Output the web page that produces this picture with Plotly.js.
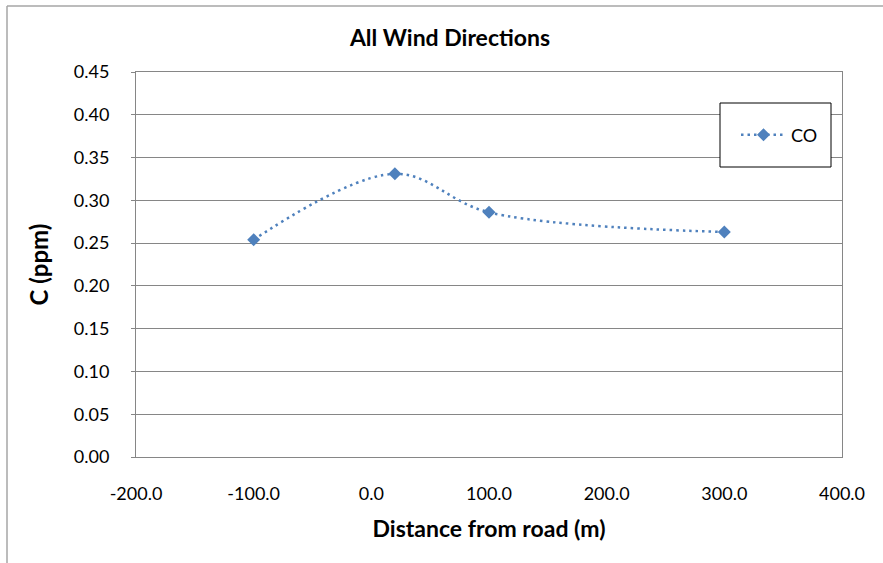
<!DOCTYPE html>
<html>
<head>
<meta charset="utf-8">
<script src="https://cdn.plot.ly/plotly-3.0.1.min.js"></script>
<style>
html,body{margin:0;padding:0;background:#fff;}
#chart{width:883px;height:563px;}
</style>
</head>
<body>
<div id="chart"></div>
<script>
// Data
const seriesName = "CO";
const distance = [-100, 20, 100, 300];
const concentration = [0.254, 0.331, 0.286, 0.263];
const xTickVals = [-200, -100, 0, 100, 200, 300, 400];
const yTickVals = [0, 0.05, 0.10, 0.15, 0.20, 0.25, 0.30, 0.35, 0.40, 0.45];

const FONT = "Lato, 'Open Sans', 'DejaVu Sans', sans-serif";
const blue = "#4F81BD";
const grid = "#868686";

// plot area in px
const L = 136, R = 842, T = 72, B = 457, W = 883, H = 563;
const pw = R - L, ph = B - T;
const px = v => (v - L) / pw;
const py = v => (B - v) / ph;

const trace = {
  x: distance,
  y: concentration,
  name: seriesName,
  type: "scatter",
  mode: "lines+markers",
  line: {color: blue, width: 2.5, dash: "2.5px,4px", shape: "spline", smoothing: 1},
  marker: {symbol: "diamond", size: 10, color: blue}
};

const layout = {
  width: W, height: H,
  margin: {l: L, r: W - R, t: T, b: H - B, pad: 0},
  paper_bgcolor: "#fff",
  plot_bgcolor: "#fff",
  font: {family: FONT, color: "#000", size: 18},
  title: {
    text: "<b>All Wind Directions</b>",
    font: {family: FONT, size: 23, color: "#000"},
    x: 450 / W, xanchor: "center",
    y: 1 - 38 / H, yanchor: "middle"
  },
  xaxis: {
    range: [-200, 400],
    tickvals: xTickVals,
    ticktext: xTickVals.map(v => v.toFixed(1)),
    showgrid: false,
    zeroline: false,
    showline: true, linecolor: grid, linewidth: 1,
    ticks: "", ticklabelstandoff: 20,
    tickfont: {family: FONT, size: 18, color: "#000"},
    title: {text: "<b>Distance from road (m)</b>", font: {family: FONT, size: 23, color: "#000"}, standoff: 18},
    mirror: true
  },
  yaxis: {
    range: [0, 0.45],
    tickvals: yTickVals,
    ticktext: yTickVals.map(v => v.toFixed(2)),
    showgrid: true, gridcolor: grid, gridwidth: 1,
    zeroline: false,
    showline: true, linecolor: grid, linewidth: 1,
    ticks: "outside", ticklen: 4, tickcolor: grid,
    ticklabelstandoff: 18,
    tickfont: {family: FONT, size: 18, color: "#000"},
    title: {text: "<b>C (ppm)</b>", font: {family: FONT, size: 24, color: "#000"}, standoff: 18},
    mirror: true
  },
  showlegend: true,
  legend: {
    x: px(736), xanchor: "left",
    y: py(135), yanchor: "middle",
    bgcolor: "rgba(0,0,0,0)",
    borderwidth: 0,
    font: {family: FONT, size: 18, color: "#000"},
    itemwidth: 45
  },
  shapes: [
    // outer chart border (top and left visible)
    {type: "line", xref: "paper", yref: "paper", x0: px(7), x1: px(W + 5), y0: py(6), y1: py(6), line: {color: "#A6A6A6", width: 1.5}},
    {type: "line", xref: "paper", yref: "paper", x0: px(7), x1: px(7), y0: py(6), y1: py(H + 5), line: {color: "#A6A6A6", width: 1.5}},
    // legend box
    {type: "rect", xref: "paper", yref: "paper", x0: px(720), x1: px(831), y0: py(103), y1: py(167), fillcolor: "#fff", line: {color: "#000", width: 1}, layer: "above"}
  ]
};

Plotly.newPlot("chart", [trace], layout, {displayModeBar: false, staticPlot: true});
</script>
</body>
</html>
